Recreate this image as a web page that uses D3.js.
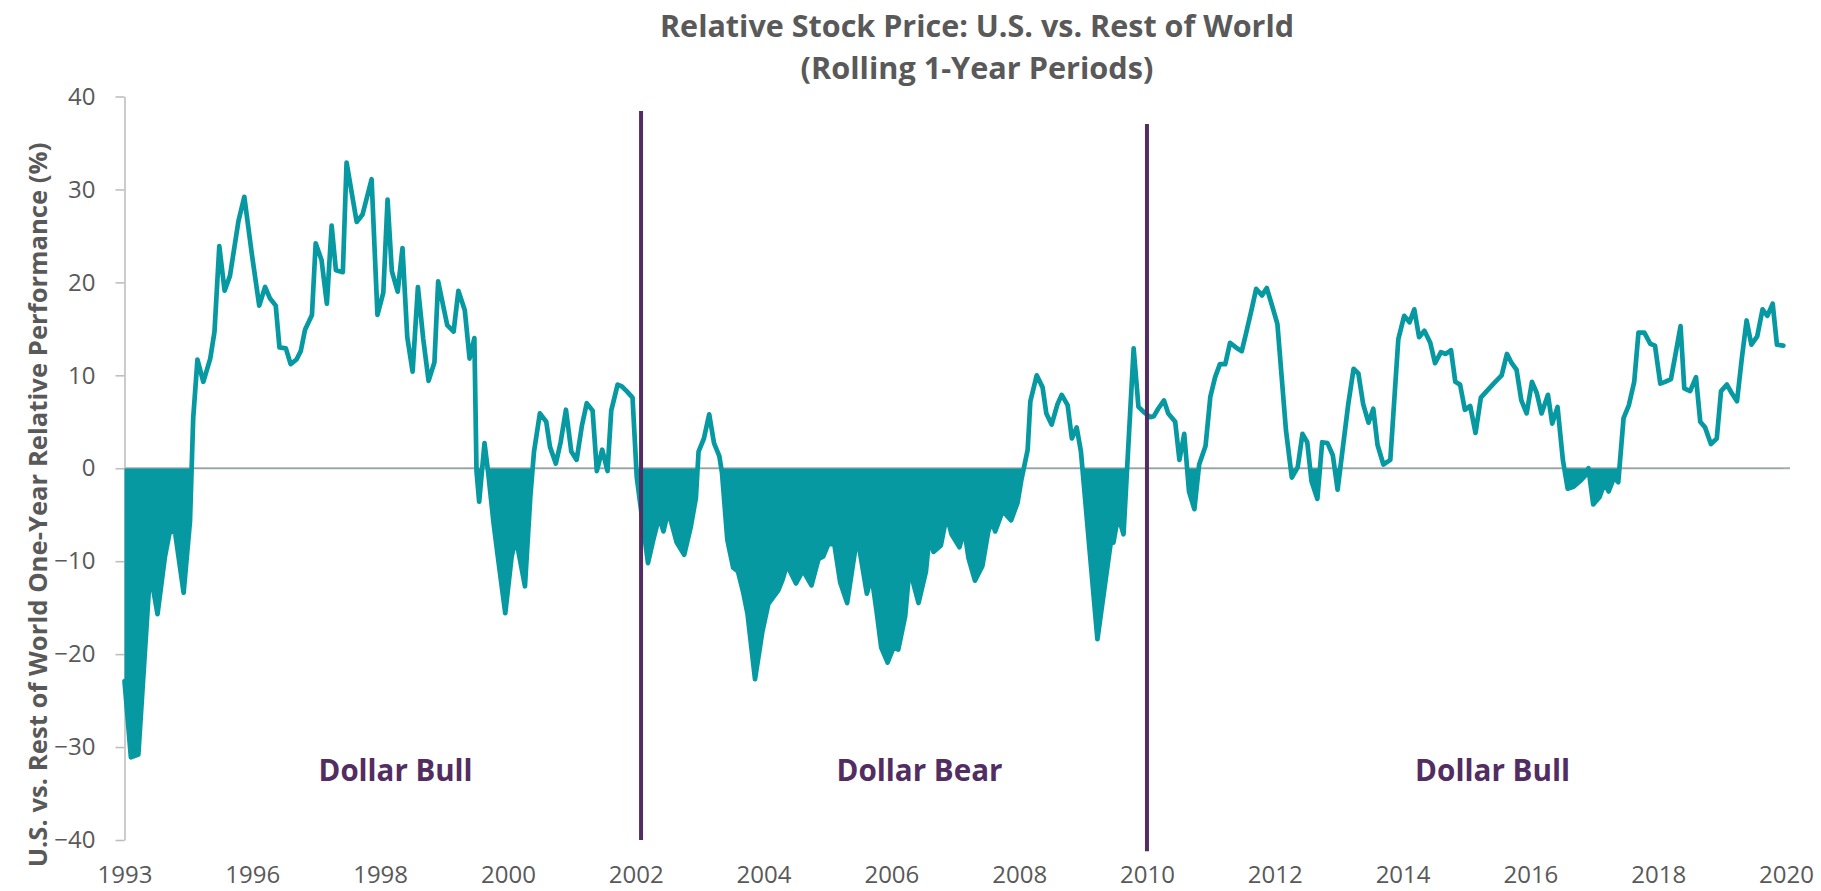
<!DOCTYPE html>
<html>
<head>
<meta charset="utf-8">
<script src="https://cdn.jsdelivr.net/npm/d3@7"></script>
<style>
  html, body { margin: 0; padding: 0; background: #ffffff; }
  svg { display: block; }
  text { font-family: "Open Sans", "Noto Sans", sans-serif; }
</style>
</head>
<body>
<svg id="chart" width="1821" height="891"></svg>
<script>
// Months elapsed since the start of the series (one point per vertex)
const months = [
  0, 1.2, 2.6, 4.8, 6.2, 7.6, 8.5, 9.5, 11.1, 12.3,
  12.9, 13.7, 14.8, 16.1, 16.9, 17.8, 18.8, 19.8, 21.4, 22.5,
  23.9, 25.3, 26.4, 27.3, 28.4, 29.1, 30.3, 31.2, 32.3, 33.1,
  33.9, 35.2, 35.9, 37.0, 38.0, 38.9, 39.7, 41.0, 41.7, 43.6,
  44.7, 46.4, 47.5, 48.6, 49.4, 50.2, 51.3, 52.2, 53.1, 54.1,
  55.1, 56.1, 57.1, 58.2, 58.9, 60.6, 61.8, 62.7, 63.9, 64.8,
  65.7, 66.1, 66.6, 67.6, 68.3, 69.3, 70.1, 71.5, 72.7, 73.5,
  75.2, 76.2, 76.9, 78.0, 79.2, 79.9, 81.0, 81.9, 82.9, 83.9,
  84.9, 85.9, 86.8, 87.9, 88.7, 89.7, 90.7, 91.4, 92.6, 93.4,
  94.3, 95.4, 96.2, 98.3, 99.3, 100.4, 101.2, 102.1, 103.7, 105.1,
  106.3, 107.3, 107.8, 108.8, 109.8, 110.7, 111.7, 112.2, 113.2, 114.3,
  115.2, 116.2, 117.0, 118.4, 119.8, 120.9, 122.8, 123.5, 124.4, 126.1,
  127.4, 129.0, 130.3, 131.2, 132.2, 133.3, 134.4, 135.7, 137.6, 139.4,
  140.3, 141.3, 142.1, 143.3, 144.4, 145.3, 146.6, 147.4, 149.1, 150.5,
  151.1, 151.9, 153.3, 154.4, 155.3, 156.8, 157.7, 158.5, 159.7, 161.1,
  162.2, 162.9, 163.5, 164.9, 166.5, 167.7, 168.4, 169.6, 170.1, 171.3,
  172.4, 173.1, 174.1, 175.2, 176.0, 177.1, 177.9, 178.8, 179.6, 182.7,
  185.2, 185.7, 186.6, 187.6, 189.5, 190.4, 191.5, 192.6, 193.3, 194.1,
  195.2, 196.0, 197.3, 198.1, 199.0, 199.9, 200.9, 201.8, 203.0, 203.9,
  204.8, 205.7, 206.7, 207.6, 208.7, 209.8, 210.6, 211.7, 212.5, 213.6,
  214.5, 215.6, 216.5, 218.1, 219.2, 220.3, 221.2, 222.1, 222.9, 224.0,
  224.9, 225.9, 226.9, 227.8, 229.8, 230.8, 231.7, 232.6, 233.6, 234.5,
  235.3, 236.4, 237.7, 239.2, 240.3, 241.3, 242.2, 243.1, 244.1, 245.2,
  246.1, 247.2, 248.1, 249.1, 249.9, 250.8, 251.7, 252.7, 253.7, 254.7,
  255.8, 257.4, 258.6, 259.6, 260.5, 261.4, 262.3, 263.3, 264.3, 265.2,
  266.1, 267.3, 268.1, 269.1, 270.1, 271.0, 272.1, 273.3, 274.3, 274.9,
  275.8, 277.0, 277.9, 278.7, 279.7, 280.5, 281.5, 282.5, 283.5, 284.3,
  285.4, 286.5, 287.4, 288.4, 289.3, 290.4, 291.2, 292.2, 292.9, 294.0,
  295.1, 295.9, 296.8, 297.9, 299.0, 299.8, 300.9, 301.8, 302.8, 303.7,
  304.6, 305.5, 306.6, 307.6, 308.5, 309.5, 310.3, 311.5
];

// U.S. minus rest-of-world rolling one-year performance, percentage points
const relPerf = [
  -22.9, -31.1, -30.8, -11.1, -15.7, -9.5, -6.8, -6.9, -13.4, -5.7,
  5.4, 11.7, 9.3, 11.8, 14.7, 23.9, 19.1, 20.7, 26.6, 29.2,
  23.1, 17.5, 19.5, 18.3, 17.5, 13.0, 12.9, 11.2, 11.7, 12.6,
  14.9, 16.5, 24.2, 22.4, 17.7, 26.1, 21.3, 21.1, 32.9, 26.5,
  27.3, 31.1, 16.5, 18.9, 28.9, 21.2, 19.0, 23.7, 14.1, 10.4,
  19.5, 13.9, 9.4, 11.4, 20.1, 15.4, 14.7, 19.1, 17.0, 11.8,
  14.0, -0.3, -3.6, 2.7, -0.5, -5.9, -9.5, -15.6, -9.5, -7.5,
  -12.7, -3.1, 1.8, 5.9, 5.0, 2.3, 0.5, 2.8, 6.3, 1.8,
  0.9, 4.6, 7.0, 6.2, -0.3, 2.0, -0.3, 6.2, 9.0, 8.8,
  8.3, 7.6, -1.0, -10.2, -7.7, -5.2, -6.8, -4.6, -8.0, -9.3,
  -6.4, -3.2, 1.8, 3.2, 5.8, 2.7, 1.3, -0.5, -7.7, -10.7,
  -11.1, -13.4, -15.7, -22.7, -17.5, -14.6, -13.1, -12.1, -10.4, -12.4,
  -11.0, -12.6, -9.8, -9.5, -8.1, -8.2, -12.3, -14.5, -7.3, -13.5,
  -11.6, -15.7, -19.3, -20.9, -19.3, -19.5, -15.9, -10.8, -14.5, -11.1,
  -7.5, -9.0, -8.3, -5.1, -7.1, -8.5, -6.6, -9.7, -12.1, -10.5,
  -6.8, -5.7, -6.8, -4.6, -5.6, -3.7, -1.3, 2.0, 7.2, 10.0,
  8.7, 5.9, 4.7, 6.9, 7.9, 6.8, 3.2, 4.4, 1.8, -18.4,
  -8.0, -8.0, -5.1, -7.1, 12.9, 6.6, 6.0, 5.5, 5.6, 6.4,
  7.3, 5.9, 5.0, 0.9, 3.7, -2.5, -4.4, 0.4, 2.4, 7.7,
  9.8, 11.2, 11.2, 13.5, 13.0, 12.6, 14.5, 17.2, 19.3, 18.6,
  19.4, 17.3, 15.5, 4.1, -1.0, 0.1, 3.7, 2.8, -1.4, -3.3,
  2.8, 2.7, 1.4, -2.3, 6.9, 10.7, 10.2, 6.9, 4.9, 6.4,
  2.5, 0.4, 0.9, 13.9, 16.4, 15.7, 17.1, 14.1, 14.8, 13.5,
  11.3, 12.5, 12.3, 12.7, 9.3, 9.0, 6.3, 6.7, 3.8, 7.6,
  8.3, 9.3, 10.0, 12.3, 11.3, 10.6, 7.3, 5.9, 9.3, 8.1,
  5.9, 7.9, 4.8, 6.6, 0.9, -2.2, -2.0, -1.4, -0.8, 0.0,
  -3.9, -3.1, -1.6, -2.5, -1.0, -1.5, 5.4, 6.8, 9.3, 14.6,
  14.6, 13.4, 13.2, 9.1, 9.3, 9.6, 12.1, 15.3, 8.6, 8.3,
  9.8, 5.0, 4.4, 2.6, 3.2, 8.3, 9.0, 8.1, 7.2, 11.8,
  15.9, 13.3, 14.2, 17.1, 16.4, 17.7, 13.3, 13.2
];

// Category-axis labels, one every 24 months
const tickMonths = [0, 24, 48, 72, 96, 120, 144, 168, 192, 216, 240, 264, 288, 312];
const tickLabels = ["1993", "1996", "1998", "2000", "2002", "2004", "2006",
                    "2008", "2010", "2012", "2014", "2016", "2018", "2020"];
const yTicks = [-40, -30, -20, -10, 0, 10, 20, 30, 40];

// Dollar regimes: boundaries (months) and label placement (months)
const regimeBreaks = [97, 192];
const regimeNames = ["Dollar Bull", "Dollar Bear", "Dollar Bull"];
const regimeLabelMonths = [50.9, 149.3, 256.9];

// ---- layout & style ----
const W = 1821, H = 891;
const plot = { left: 124.5, right: 1790, top: 96.5, bottom: 840 };
const TEAL = "#0799a2", PURPLE = "#512d62", TEXT = "#595959";

const svg = d3.select("#chart");

const x = d3.scaleLinear().domain([0, 312]).range([plot.left, 1786]);
const y = d3.scaleLinear().domain([-40, 40]).range([plot.bottom, plot.top]);

const series = months.map((m, i) => ({ m, v: relPerf[i] }));

// Shrink or grow a text's font size until it spans the wanted width
function fitWidth(sel, target) {
  const w = sel.node().getComputedTextLength();
  const fs = parseFloat(sel.attr("font-size"));
  sel.attr("font-size", (fs * target / w).toFixed(2));
}

// Title
const title = svg.append("g").attr("fill", TEXT).attr("font-weight", 700).attr("text-anchor", "middle");
const t1 = title.append("text").attr("x", 977).attr("y", 37).attr("font-size", 28)
  .text("Relative Stock Price: U.S. vs. Rest of World");
const t2 = title.append("text").attr("x", 977).attr("y", 79).attr("font-size", 28)
  .text("(Rolling 1-Year Periods)");
fitWidth(t1, 634);
fitWidth(t2, 353);

// Y axis title
const yTitle = svg.append("text")
  .attr("transform", `translate(47, 505) rotate(-90)`)
  .attr("text-anchor", "middle")
  .attr("font-weight", 700)
  .attr("font-size", 24)
  .attr("fill", TEXT)
  .text("U.S. vs. Rest of World One-Year Relative Performance (%)");
fitWidth(yTitle, 725);

// Zero line doubles as the category axis
svg.append("line")
  .attr("x1", plot.left).attr("x2", plot.right)
  .attr("y1", y(0)).attr("y2", y(0))
  .attr("stroke", "#ababab").attr("stroke-width", 2);

// Y axis
const yAxis = svg.append("g")
  .attr("transform", `translate(${plot.left},0)`)
  .call(d3.axisLeft(y).tickValues(yTicks).tickSize(9).tickSizeOuter(0).tickPadding(20));
yAxis.select(".domain").attr("stroke", "#bfbfbf").attr("stroke-width", 1.6);
yAxis.selectAll(".tick line").attr("stroke", "#bfbfbf").attr("stroke-width", 1.6);
yAxis.selectAll(".tick text")
  .attr("font-family", '"Open Sans", sans-serif')
  .attr("font-size", 24).attr("fill", TEXT);
yAxis.attr("font-family", null).attr("font-size", null);

// X labels
const xAxis = svg.append("g")
  .attr("transform", `translate(0,${plot.bottom})`)
  .call(d3.axisBottom(x).tickValues(tickMonths)
    .tickFormat((d, i) => tickLabels[i]).tickSize(0).tickPadding(26));
xAxis.select(".domain").remove();
xAxis.selectAll(".tick text")
  .attr("font-family", '"Open Sans", sans-serif')
  .attr("font-size", 24).attr("fill", TEXT);
xAxis.attr("font-family", null).attr("font-size", null);

// Shaded area for negative readings: area to the zero line, clipped below zero
svg.append("clipPath").attr("id", "below-zero")
  .append("rect")
  .attr("x", 0).attr("y", y(0))
  .attr("width", W).attr("height", H - y(0));

svg.append("path")
  .datum(series)
  .attr("clip-path", "url(#below-zero)")
  .attr("fill", TEAL)
  .attr("d", d3.area().x(d => x(d.m)).y0(y(0)).y1(d => y(d.v)));

// Relative performance line
svg.append("path")
  .datum(series)
  .attr("fill", "none")
  .attr("stroke", TEAL)
  .attr("stroke-width", 4.7)
  .attr("stroke-linejoin", "round")
  .attr("stroke-linecap", "round")
  .attr("d", d3.line().x(d => x(d.m)).y(d => y(d.v)));

// Regime boundaries
const breakSpans = [[38.45, -40], [37.05, -41.2]];
svg.selectAll(".regime-break")
  .data(regimeBreaks)
  .join("line")
  .attr("class", "regime-break")
  .attr("x1", d => x(d)).attr("x2", d => x(d))
  .attr("y1", (d, i) => y(breakSpans[i][0]))
  .attr("y2", (d, i) => y(breakSpans[i][1]))
  .attr("stroke", PURPLE).attr("stroke-width", 4);

// Regime labels
const labelWidths = [154, 166, 155];
svg.selectAll(".regime-label")
  .data(regimeNames)
  .join("text")
  .attr("class", "regime-label")
  .attr("x", (d, i) => x(regimeLabelMonths[i]))
  .attr("y", y(-33.7))
  .attr("text-anchor", "middle")
  .attr("font-weight", 700)
  .attr("font-size", 28)
  .attr("fill", PURPLE)
  .text(d => d)
  .each(function (d, i) { fitWidth(d3.select(this), labelWidths[i]); });
</script>
</body>
</html>
